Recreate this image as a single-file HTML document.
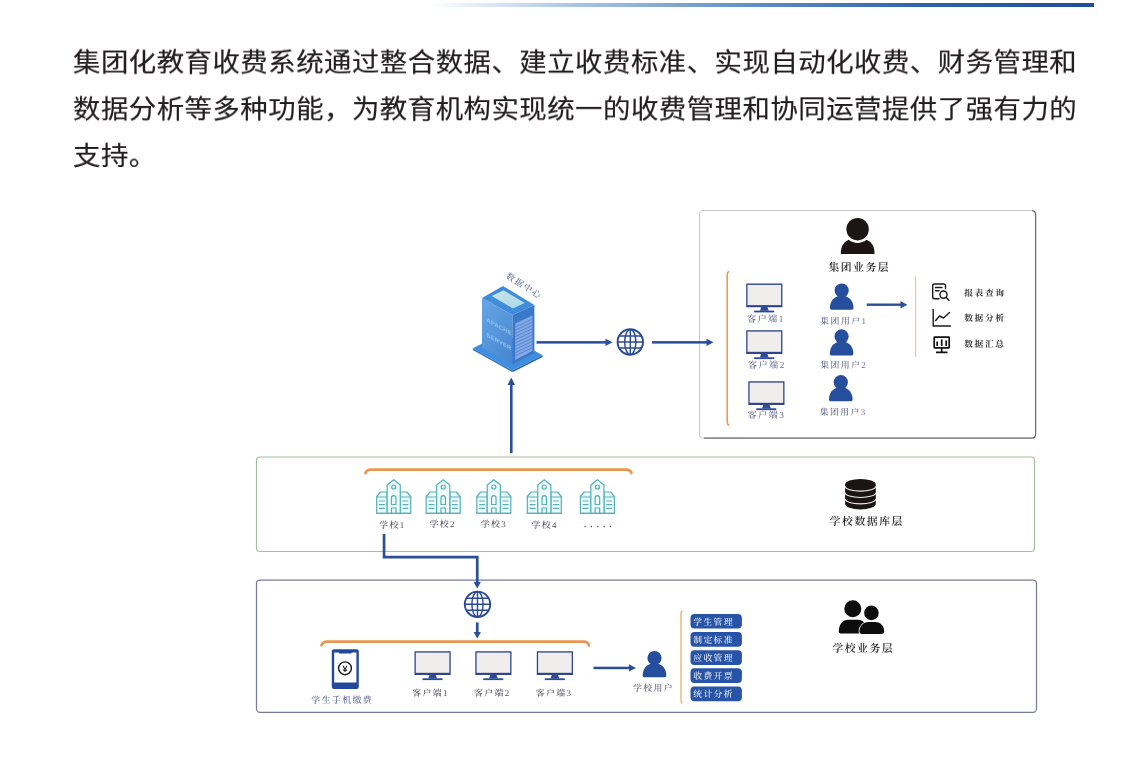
<!DOCTYPE html>
<html lang="zh-CN">
<head>
<meta charset="utf-8">
<title>集团化教育收费系统</title>
<style>
html,body{margin:0;padding:0;background:#fff;}
body{width:1146px;height:763px;position:relative;overflow:hidden;font-family:"Liberation Sans","Noto Sans CJK SC",sans-serif;}
#topbar{position:absolute;left:430px;top:3px;width:664px;height:4px;background:linear-gradient(90deg,rgba(255,255,255,0) 0%,#a9c4e2 22%,#5b8cc4 50%,#2d62a8 75%,#1f4f96 100%);}
#intro{position:absolute;left:72.5px;top:40.4px;width:1020px;margin:0;font-size:27.4px;letter-spacing:0.505px;-webkit-text-stroke:0.2px #221e1f;line-height:48.69px;color:#221e1f;white-space:nowrap;transform:scaleY(0.955);transform-origin:0 0;will-change:transform;}
#diagram{position:absolute;left:0;top:0;width:1146px;height:763px;will-change:transform;}
#diagram text{font-family:"Liberation Serif","Noto Serif CJK SC",serif;text-rendering:geometricPrecision;}
.lb{font-size:8.9px;fill:#676c8f;letter-spacing:1.4px;text-anchor:middle;font-weight:500;}
.lk{font-size:8.9px;fill:#4e4e58;letter-spacing:1.4px;text-anchor:middle;font-weight:500;}
.ttl{font-size:10.8px;fill:#262626;letter-spacing:1.55px;text-anchor:middle;font-weight:600;}
.fn{font-size:8.7px;fill:#333;letter-spacing:1.7px;font-weight:700;}
.btn{font-size:8.8px;fill:#eef2fb;letter-spacing:1.35px;font-weight:500;}
</style>
</head>
<body>
<div id="topbar"></div>
<p id="intro">集团化教育收费系统通过整合数据、建立收费标准、实现自动化收费、财务管理和<br>数据分析等多种功能，为教育机构实现统一的收费管理和协同运营提供了强有力的<br><span style="position:relative;top:1px">支持。</span></p>
<svg id="diagram" viewBox="0 0 1146 763" width="1146" height="763">
<defs>
  <g id="monitor">
    <rect x="0" y="0" width="36.2" height="23.6" rx="0.5" fill="#2f448c"/><rect x="1.3" y="1.3" width="33.6" height="20.2" fill="#f0eeed"/>
    <path d="M15.3 23 L20.9 23 L22.5 27.2 L13.7 27.2 Z" fill="#2c4a97"/>
    <rect x="8" y="27" width="20" height="1.8" fill="#2c4a97"/>
  </g>
  <g id="user">
    <circle cx="12" cy="7.2" r="7.1"/>
    <path d="M0.2 24.6 C0.2 17.5 4.5 14 8.5 12.6 L15.5 12.6 C19.5 14 23.8 17.5 23.8 24.6 Q23.8 26.3 22.2 26.3 L1.8 26.3 Q0.2 26.3 0.2 24.6 Z"/>
  </g>
  <g id="school" fill="none" stroke="#57b1ba" stroke-width="1.2" stroke-linejoin="round" stroke-linecap="round">
    <path d="M0.7 34.3 L0.7 17.5 L4.5 13 L11 13 L11 34.3 Z" fill="#eefafb"/>
    <path d="M24 34.3 L24 13 L30.5 13 L34.3 17.5 L34.3 34.3 Z" fill="#eefafb"/>
    <path d="M11 34.3 L11 6 L17.5 0.7 L24 6 L24 34.3 Z" fill="#eefafb"/>
    <path d="M0.7 34.3 L34.3 34.3 M0.7 18 L11 18 M24 18 L34.3 18"/>
    <circle cx="17.5" cy="8" r="2"/>
    <path d="M15.3 25.5 L15.3 18.8 C15.3 15.8 19.7 15.8 19.7 18.8 L19.7 25.5 Z"/>
    <path d="M15.3 34.3 L15.3 29 L19.7 29 L19.7 34.3"/>
    <path d="M3.5 22 L8.3 22 M3.5 25.7 L8.3 25.7 M3.5 29.4 L8.3 29.4 M26.7 22 L31.5 22 M26.7 25.7 L31.5 25.7 M26.7 29.4 L31.5 29.4"/>
  </g>
  <g id="globe" fill="none" stroke="#2b4b96" stroke-width="1.45">
    <circle cx="0" cy="0" r="12.7" stroke-width="1.9"/>
    <ellipse cx="0" cy="0" rx="5.6" ry="12.6"/>
    <path d="M0 -12.6 L0 12.6 M-12.6 0 L12.6 0 M-11 -6 L11 -6 M-11 6 L11 6"/>
  </g>
  <linearGradient id="gLeft" x1="0" y1="0" x2="0.6" y2="1">
    <stop offset="0" stop-color="#66a5e4"/><stop offset="0.55" stop-color="#5797dc"/><stop offset="1" stop-color="#4a88d2"/>
  </linearGradient>
  <linearGradient id="gTop" x1="0" y1="0" x2="1" y2="1">
    <stop offset="0" stop-color="#c9e4e4"/><stop offset="1" stop-color="#a9d9ea"/>
  </linearGradient>
</defs>

<!-- layer boxes -->
<rect x="699.5" y="210.5" width="336" height="227.5" rx="3" fill="#fff" stroke="#c9c9c9" stroke-width="1"/>
<path d="M1032 210.7 Q1035.6 211 1035.6 214.5 L1035.6 434 Q1035.6 438.2 1031.5 438.2 L704 438.2" fill="none" stroke="#6f7075" stroke-width="1.3"/>
<rect x="256.5" y="457" width="778" height="94.5" rx="3.5" fill="none" stroke="#a4bda2" stroke-width="1.2"/>
<rect x="256.5" y="580" width="780" height="132.3" rx="3.5" fill="none" stroke="#797c98" stroke-width="1.25"/>

<!-- server -->
<g id="server">
  <path d="M472.8 348.3 L503 333 L542.6 355.2 L512.6 370.4 Z" fill="#3f8fde"/>
  <path d="M472.8 348.3 L512.6 370.4 L512.6 372.2 L472.8 350.1 Z" fill="#2f74c4"/>
  <path d="M512.6 370.4 L542.6 355.2 L542.6 357 L512.6 372.2 Z" fill="#2a63ae"/>
  <path d="M482 298 L512.4 315 L512.4 364.6 L482 347.4 Z" fill="url(#gLeft)"/>
  <path d="M512.4 315 L534.4 305 L534.4 353 L512.4 364.6 Z" fill="#3a78cc"/>
  <path d="M503 286 L534.4 305 L512.4 315 L482 298 Z" fill="#3f8cdc"/>
  <path d="M503.5 290.3 L524.8 303 L513 308.6 L491.6 296 Z" fill="url(#gTop)"/>
  <path d="M515.2 323.6 L532.4 315.6 L532.4 351 L515.2 360 Z" fill="#84a9e4"/>
  <g stroke="#4f80d0" stroke-width="0.9">
    <path d="M515.2 327 L532.4 319 M515.2 330.2 L532.4 322.2 M515.2 333.4 L532.4 325.4 M515.2 336.6 L532.4 328.6 M515.2 339.8 L532.4 331.8 M515.2 343 L532.4 335 M515.2 346.2 L532.4 338.2 M515.2 349.4 L532.4 341.4 M515.2 352.6 L532.4 344.6 M515.2 355.8 L532.4 347.8"/>
  </g>
  <text transform="translate(486.5 321.5) skewY(29)" style="font-family:'Liberation Sans',sans-serif;font-size:5.8px;font-weight:bold;letter-spacing:0.2px" fill="#94c3ee">APACHE</text>
  <text transform="translate(486.5 336.5) skewY(29)" style="font-family:'Liberation Sans',sans-serif;font-size:5.8px;font-weight:bold;letter-spacing:0.2px" fill="#94c3ee">SERVER</text>
</g>
<text transform="translate(505.2 277.4) rotate(32.5)" style="font-size:8.8px;letter-spacing:1.4px;font-weight:500" fill="#67719c">数据中心</text>

<!-- arrows -->
<g fill="#2a4f9a" stroke="none">
  <rect x="536.5" y="341.1" width="70" height="2.5"/>
  <path d="M605.5 338.7 L612.6 342.35 L605.5 346 Z"/>
  <rect x="652" y="341.1" width="55.5" height="2.5"/>
  <path d="M706.5 338.7 L713.5 342.35 L706.5 346 Z"/>
  <rect x="510" y="383.5" width="2.6" height="69.5"/>
  <path d="M507.5 385 L511.3 377.6 L515.1 385 Z"/>
  <rect x="866.7" y="303.5" width="35" height="2.4"/>
  <path d="M900.5 301 L907.3 304.7 L900.5 308.4 Z"/>
  <path d="M382.7 534 L385.4 534 L385.4 555.7 L478.6 555.7 L478.6 583 L475.9 583 L475.9 558.4 L382.7 558.4 Z"/>
  <path d="M473.6 582 L477.25 588.6 L480.9 582 Z"/>
  <rect x="475.9" y="622.4" width="2.7" height="11"/>
  <path d="M473.6 632 L477.25 638.6 L480.9 632 Z"/>
  <rect x="593.5" y="666.7" width="37" height="2.5"/>
  <path d="M629 664.3 L636 667.95 L629 671.6 Z"/>
</g>
<use href="#globe" x="630.3" y="342"/>
<use href="#globe" x="477.5" y="604.3"/>

<!-- box1 contents -->
<g fill="#1d1515">
  <circle cx="857.6" cy="229.2" r="11.2"/>
  <path d="M840.8 253.9 C840.8 245 845 241.3 848.8 239.8 C853.5 244 861.7 244 866.4 239.8 C870.2 241.3 874.6 245 874.6 253.9 Z"/>
</g>
<text class="ttl" x="859.3" y="270.6">集团业务层</text>
<path d="M729.3 271.2 Q727.2 272 727.2 274.5 L727.2 422 Q727.2 424.5 729.3 425.3" fill="none" stroke="#ec9a55" stroke-width="1.6"/>
<use href="#monitor" x="746.2" y="283.6"/>
<use href="#monitor" x="746.2" y="330.3"/>
<use href="#monitor" x="748.3" y="381.3"/>
<text class="lb" x="765.8" y="321.8" style="font-size:9.2px">客户端1</text>
<text class="lb" x="766.8" y="368.2" style="font-size:9.2px">客户端2</text>
<text class="lb" x="766.3" y="418.2" style="font-size:9.2px">客户端3</text>
<g fill="#254f9d">
  <use href="#user" x="829.7" y="283.4"/>
  <use href="#user" x="829.6" y="329.2"/>
  <use href="#user" x="828.8" y="375"/>
</g>
<text class="lb" x="843.8" y="324">集团用户1</text>
<text class="lb" x="843.6" y="367.9">集团用户2</text>
<text class="lb" x="843.2" y="414.8">集团用户3</text>
<path d="M915.6 276.3 L915.6 356.7" fill="none" stroke="#f3c39a" stroke-width="1.2"/>
<!-- report icon -->
<g fill="none" stroke="#1a1a1a" stroke-width="1.4" stroke-linecap="round" stroke-linejoin="round">
  <path d="M939 298.8 L934.5 298.8 Q932.7 298.8 932.7 297 L932.7 285.8 Q932.7 284 934.5 284 L943.7 284 Q945.5 284 945.5 285.8 L945.5 288.5"/>
  <path d="M935.5 287.5 L942 287.5 M935.5 290.7 L939 290.7"/>
  <circle cx="943.5" cy="294.6" r="3.6"/>
  <path d="M946.2 297.4 L949 300.3"/>
  <path d="M933.2 309.5 L933.2 326 L950.3 326"/>
  <path d="M935.7 320.5 L939.5 316 L943.5 318 L949.5 312.6"/>
</g>
<g fill="none" stroke="#111" stroke-width="1.7" stroke-linejoin="round">
  <rect x="934.2" y="337.2" width="15" height="10.6" rx="0.6"/>
  <path d="M941.7 348 L941.7 352 M936 352.4 L947.5 352.4 M937.2 346 L937.2 341.6 M941.7 346 L941.7 339.6 M946.2 346 L946.2 340.6" stroke-linecap="butt"/>
</g>
<text class="fn" x="964.2" y="296.2">报表查询</text>
<text class="fn" x="964.2" y="321.3">数据分析</text>
<text class="fn" x="964.2" y="346.8">数据汇总</text>

<!-- box2 contents -->
<path d="M365.5 473.2 Q366.5 469.6 371 469.6 L626 469.6 Q630.6 469.6 631.5 473.2" fill="none" stroke="#ea9550" stroke-width="2.6" stroke-linecap="round"/>
<use href="#school" transform="translate(376 479) scale(1.012 1)"/>
<use href="#school" transform="translate(425.5 479) scale(1.012 1)"/>
<use href="#school" transform="translate(476.1 479) scale(1.012 1)"/>
<use href="#school" transform="translate(526.6 479) scale(1.012 1)"/>
<use href="#school" transform="translate(579.7 479) scale(1.012 1)"/>
<text class="lk" x="392.5" y="527.5">学校1</text>
<text class="lk" x="442.6" y="526.6">学校2</text>
<text class="lk" x="493.9" y="526.6">学校3</text>
<text class="lk" x="544.6" y="527.8">学校4</text>
<text class="lk" x="599.8" y="527.2" style="letter-spacing:4.1px;font-weight:700">.....</text>
<g>
  <path d="M845.1 484.6 A15.35 5.7 0 0 1 875.8 484.6 L875.8 503.7 A15.35 5.7 0 0 1 845.1 503.7 Z" fill="#1b1414"/>
  <path d="M845.1 486.3 A15.35 4.8 0 0 0 875.8 486.3 M845.1 492.7 A15.35 4.8 0 0 0 875.8 492.7 M845.1 499.1 A15.35 4.8 0 0 0 875.8 499.1" fill="none" stroke="#f3eeee" stroke-width="1.1"/>
</g>
<text class="ttl" x="866.8" y="525.4">学校数据库层</text>

<!-- box3 contents -->
<path d="M321.5 645.5 Q322.5 641.6 327 641.6 L583.5 641.6 Q588 641.6 589 645.5" fill="none" stroke="#ea9550" stroke-width="2.6" stroke-linecap="round"/>
<rect x="331.8" y="649.2" width="27" height="39.8" rx="2.2" fill="#23489a"/>
<path d="M334.2 652.4 L338.5 652.4 Q339 653.6 340.5 653.6 L350 653.6 Q351.5 653.6 352 652.4 L356.4 652.4 L356.4 682.4 L334.2 682.4 Z" fill="#fff"/>
<circle cx="345" cy="668.3" r="6.4" fill="none" stroke="#1a1a1a" stroke-width="1.4"/>
<text x="345" y="671.7" text-anchor="middle" style="font-family:'Liberation Sans',sans-serif;font-size:9px;font-weight:bold" fill="#1a1a1a">¥</text>
<text class="lb" x="342.2" y="703" style="fill:#5a6699">学生手机缴费</text>
<use href="#monitor" x="414.5" y="651.3"/>
<use href="#monitor" x="475.3" y="651.3"/>
<use href="#monitor" x="536.8" y="651.3"/>
<text class="lk" x="430.5" y="696.3">客户端1</text>
<text class="lk" x="492.3" y="696.3">客户端2</text>
<text class="lk" x="554" y="696.3">客户端3</text>
<g fill="#254f9d"><use href="#user" x="642.5" y="650.9"/></g>
<text class="lb" x="653.6" y="691.4" style="fill:#5d617e">学校用户</text>
<path d="M682.6 610.8 Q681 611.5 681 613.5 L681 700.5 Q681 702.5 682.6 703.2" fill="none" stroke="#f0a35e" stroke-width="1.2"/>
<g fill="#2754a6">
  <rect x="690.5" y="613.9" width="51.4" height="14.7" rx="4"/>
  <rect x="690.5" y="632.0" width="51.4" height="14.7" rx="4"/>
  <rect x="690.5" y="650.2" width="51.4" height="14.7" rx="4"/>
  <rect x="690.5" y="668.3" width="51.4" height="14.7" rx="4"/>
  <rect x="690.5" y="686.5" width="51.4" height="14.7" rx="4"/>
</g>
<text class="btn" x="693.3" y="624.6">学生管理</text>
<text class="btn" x="693.3" y="642.7">制定标准</text>
<text class="btn" x="693.3" y="660.9">应收管理</text>
<text class="btn" x="693.3" y="679.0">收费开票</text>
<text class="btn" x="693.3" y="697.2">统计分析</text>
<g fill="#0d0d0d">
  <circle cx="852.8" cy="608.7" r="8.5"/>
  <path d="M838.8 631.6 C838.8 624 843 619.8 848.5 619.8 L857.5 619.8 C861 619.8 863.5 621.5 865 623.5 L865 633.6 L840.8 633.6 Q838.8 633.6 838.8 631.6 Z"/>
  <circle cx="871.4" cy="612.9" r="7.3"/>
  <path d="M859.4 631.6 C859.4 626 863.5 622.1 868.5 622.1 L875.5 622.1 C880.5 622.1 884.2 626 884.2 631.6 Q884.2 633.9 882 633.9 L861.6 633.9 Q859.4 633.9 859.4 631.6 Z" stroke="#fff" stroke-width="1.6" paint-order="stroke"/>
</g>
<text class="ttl" x="863.3" y="651.5">学校业务层</text>
</svg>
</body>
</html>
